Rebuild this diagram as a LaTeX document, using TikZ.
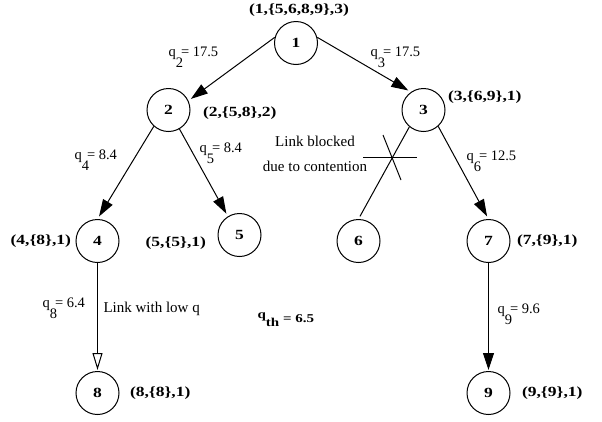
\documentclass[tikz,border=0pt]{standalone}
\usepackage{fontspec}
\setmainfont{Liberation Serif}
\newfontfamily\wideserif{Liberation Serif}[FakeStretch=1.25]
\usetikzlibrary{arrows.meta}

\newcommand\qv[2]{q\raisebox{-11pt}{#1}\kern-2pt= #2}

\tikzset{
  st/.style={circle, draw, minimum size=43pt, inner sep=0pt,
    font=\wideserif\fontsize{14}{14}\selectfont\bfseries},
  tag/.style={inner sep=0pt, font=\wideserif\fontsize{14}{14}\selectfont\bfseries},
  qlab/.style={anchor=base west, inner sep=0pt, font=\fontsize{14.5}{14.5}\selectfont},
  note/.style={anchor=base, inner sep=0pt, font=\fontsize{15}{15}\selectfont}
}

\begin{document}
\begin{tikzpicture}[x=1pt, y=1pt, line width=1pt,
    level 1/.style={level distance=67pt, sibling distance=255pt},
    level 2/.style={level distance=131pt, sibling distance=142pt},
    level 3/.style={level distance=152pt,
      edge from parent path={(\tikzparentnode.south) -- (\tikzchildnode.north)}},
    edge from parent/.style={draw, shorten >=3pt, -{Triangle[length=17pt,width=11pt]}}
    ]
    \useasboundingbox (0,0) rectangle (602,-421);
    \node[st, label={[tag,label distance=4pt,xshift=3pt]90:(1,\{5,6,8,9\},3)}] (n1) at (296,-43) {1}
      child[edge from parent path={(\tikzparentnode.165) -- (\tikzchildnode.25)}] {node[st, label={[tag,label distance=12pt,yshift=-3pt]0:(2,\{5,8\},2)}] (n2) {2}
        child[edge from parent path={(\tikzparentnode.228) -- (\tikzchildnode.north)}] {node[st, label={[tag,label distance=4pt]180:(4,\{8\},1)}] (n4) {4}
          child {node[st, label={[tag,label distance=10pt]0:(8,\{8\},1)}] (n8) {8}
            edge from parent[shorten >=1pt, -{Triangle[open,length=17pt,width=10pt]}]}
        }
        child[yshift=6pt, edge from parent path={(\tikzparentnode.300) -- (\tikzchildnode.122)}] {node[st, label={[tag,label distance=11pt,yshift=-8pt]180:(5,\{5\},1)}] (n5) {5}}
      }
      child[edge from parent path={(\tikzparentnode.15) -- (\tikzchildnode.125)}] {node[st, label={[tag,label distance=2pt,yshift=13pt]0:(3,\{6,9\},1)}] (n3) {3}
        child[sibling distance=130pt, edge from parent path={(\tikzparentnode.230) -- (\tikzchildnode.north)}] {node[st] (n6) {6} edge from parent[-]}
        child[sibling distance=130pt, edge from parent path={(\tikzparentnode.312) -- (\tikzchildnode.north)}] {node[st, label={[tag,label distance=6pt]0:(7,\{9\},1)}] (n7) {7}
          child {node[st, label={[tag,label distance=11pt]0:(9,\{9\},1)}] (n9) {9}
            edge from parent[shorten >=1pt]}
        }
      };

    % link weights
    \node[qlab] (q2) at (168,-56) {\qv{2}{17.5}};
    \node[qlab] (q3) at (370,-56) {\qv{3}{17.5}};
    \node[qlab] (q4) at (74,-159) {\qv{4}{8.4}};
    \node[qlab] (q5) at (199,-152) {\qv{5}{8.4}};
    \node[qlab] (q6) at (466,-160) {\qv{6}{12.5}};
    \node[qlab] (q8) at (42,-307) {\qv{8}{6.4}};
    \node[qlab] (q9) at (497,-313) {\qv{9}{9.6}};

    \node[note] (blk1) at (315,-146) {Link blocked};
    \node[note] (blk2) at (315,-171) {due to contention};
    \node[qlab, font=\fontsize{15}{15}\selectfont] (low) at (103,-312) {Link with low q};
    \node[anchor=base west, inner sep=0pt, font=\wideserif\fontsize{12}{12}\selectfont\bfseries] (qth) at (257,-318)
      {q\raisebox{-8pt}{th}\kern4pt\raisebox{-4pt}{= 6.5}};

    % cut mark on the blocked link
    \draw (363,-157) -- (417,-157);
    \draw (383,-135) -- (401,-180);
\end{tikzpicture}
\end{document}
